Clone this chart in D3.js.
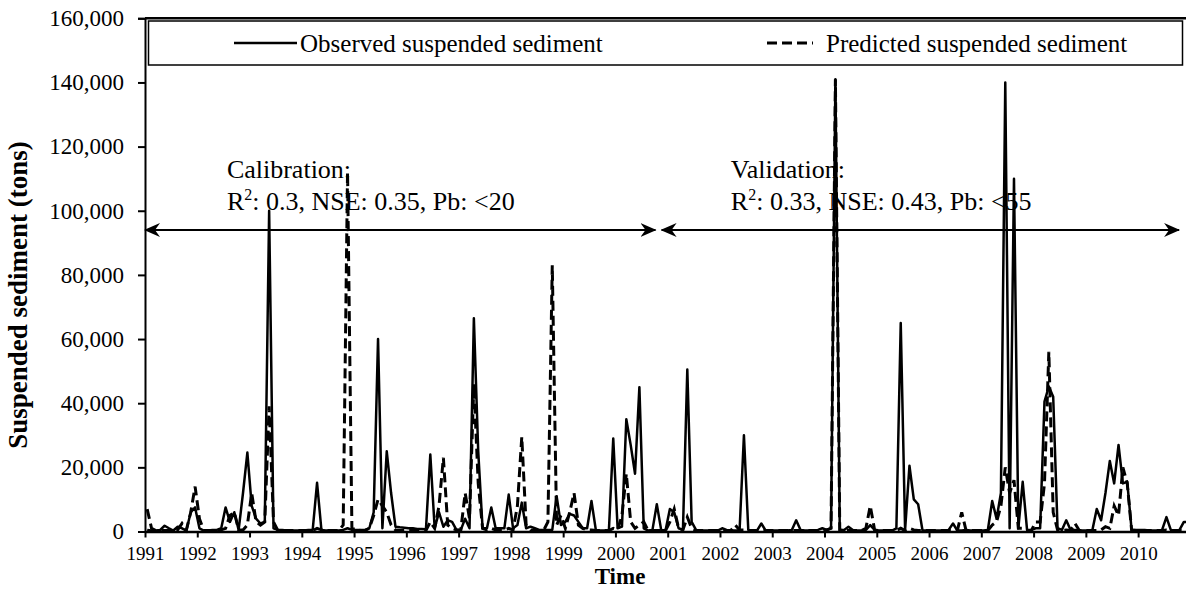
<!DOCTYPE html>
<html>
<head>
<meta charset="utf-8">
<script src="https://cdn.jsdelivr.net/npm/d3@7"></script>
<style>
  body { margin: 0; background: #fff; }
  svg { display: block; font-family: "Liberation Serif", "Times New Roman", serif; }
</style>
</head>
<body>
<svg id="chart" width="1186" height="590"></svg>
<script>
// tick labels on the time axis, one per 12 months
const years = [1991, 1992, 1993, 1994, 1995, 1996, 1997, 1998, 1999, 2000,
               2001, 2002, 2003, 2004, 2005, 2006, 2007, 2008, 2009, 2010];
const yTicks = [0, 20, 40, 60, 80, 100, 120, 140, 160]; // thousand tons

// monthly suspended sediment, thousand tons, Jan 1991 .. Dec 2010
const observed = [
  0.5, 0.3, 0.3, 0.5, 1.8, 1.0, 0.3, 1.5, 1.0, 0.3, 6, 7.5,
  1, 0.3, 0.3, 0.5, 0.5, 1, 7.5, 3, 6, 0.5, 12, 24.6,
  8, 4, 2.5, 3, 100, 1, 0.5, 0.5, 0.3, 0.3, 0.3, 0.3,
  0.3, 0.5, 0.5, 15.2, 0.5, 0.3, 0.3, 0.3, 0.3, 0.5, 1, 0.5,
  0.5, 0.5, 0.5, 1, 6, 60, 1, 25, 12, 1.5, 1.3, 1.2,
  1, 1, 0.8, 0.8, 0.7, 24, 1, 6, 1.5, 3.5, 3, 0.5,
  0.5, 4, 1, 66.5, 25, 1, 1, 7.5, 1, 1, 1, 11.5,
  1, 2, 9, 1, 1.5, 1, 0.5, 0.5, 0.5, 0.5, 11, 2,
  3, 5.5, 5, 3, 1, 1, 9.5, 0.5, 0.3, 0.3, 0.3, 29,
  1, 1.5, 35, 27, 18, 45, 1, 0.3, 0.5, 8.5, 0.5, 0.3,
  7, 6, 1, 0.5, 50.5, 3, 0.5, 0.3, 0.3, 0.3, 0.3, 0.3,
  1, 0.5, 0.3, 0.3, 0.3, 30, 0.5, 0.3, 0.3, 2.5, 0.3, 0.3,
  0.3, 0.3, 0.3, 0.3, 0.5, 3.5, 0.5, 0.3, 0.3, 0.3, 0.5, 1,
  0.5, 1, 141, 0.5, 0.5, 1.5, 0.5, 0.3, 0.3, 0.5, 2, 0.5,
  0.3, 0.3, 0.3, 0.3, 1, 65, 0.5, 20.5, 10, 8.5, 0.3, 0.3,
  0.3, 0.3, 0.3, 0.3, 0.5, 2.5, 0.3, 0.3, 0.5, 0.3, 0.3, 0.3,
  0.3, 0.5, 9.5, 4, 12, 140, 1, 110, 1, 15.5, 0.5, 0.5,
  1, 1, 40.5, 45.2, 42, 1, 0.5, 3.5, 0.5, 0.5, 0.3, 0.3,
  0.3, 0.5, 7, 3.5, 12, 22, 15, 27, 15, 15.5, 0.5, 0.5,
  0.5, 0.5, 0.3, 0.3, 0.3, 0.5, 4.5, 0.5, 0.3, 0.5, 3, 3
];
const predicted = [
  7, 1, 0.3, 0.3, 0.3, 0.3, 0.3, 0.5, 2.5, 0.5, 6, 14,
  4, 0.3, 0.3, 0.3, 0.3, 0.5, 1, 5, 6, 0.5, 0.5, 2,
  12, 3, 2, 3, 39, 3, 0.3, 0.3, 0.3, 0.3, 0.3, 0.3,
  0.3, 0.3, 0.3, 1, 0.5, 0.3, 0.3, 0.3, 0.3, 2, 112, 1,
  0.5, 0.3, 0.3, 1, 5, 10, 8, 6, 2, 0.5, 0.3, 0.3,
  0.3, 0.3, 0.3, 0.3, 0.3, 3, 1, 8, 23, 2, 1, 0.5,
  0.5, 12, 4, 46, 15, 1, 0.5, 1, 0.5, 0.5, 0.5, 1,
  0.5, 8, 29.5, 2, 0.5, 0.3, 0.3, 0.3, 3, 83, 2, 5,
  1, 6, 12, 2, 1, 0.5, 0.5, 0.3, 0.3, 0.3, 0.3, 1,
  0.5, 5, 18, 3, 1, 2, 3, 0.3, 0.3, 0.3, 0.3, 0.3,
  3, 7, 1, 0.5, 4.5, 1, 0.3, 0.3, 0.3, 0.3, 0.3, 0.3,
  0.3, 0.3, 0.3, 2, 0.5, 0.5, 0.3, 0.3, 0.3, 0.3, 0.3, 0.3,
  0.3, 0.3, 0.3, 0.3, 0.3, 0.3, 0.3, 0.3, 0.3, 0.3, 0.3, 0.5,
  0.5, 1, 141, 0.5, 0.3, 0.3, 0.3, 0.3, 0.3, 1, 8, 0.5,
  0.3, 0.3, 0.3, 0.3, 0.3, 1, 0.3, 1, 0.5, 0.3, 0.3, 0.3,
  0.3, 0.3, 0.3, 0.3, 0.3, 0.3, 0.3, 6, 0.3, 0.3, 0.3, 0.3,
  0.3, 0.3, 2, 3, 8, 20, 12, 16, 1, 1, 0.3, 0.3,
  3, 3, 15, 56, 6, 0.5, 0.3, 0.5, 0.3, 2.5, 0.3, 0.3,
  0.3, 0.3, 0.3, 0.5, 1.5, 1, 8, 5, 20, 15, 0.5, 0.3,
  0.3, 0.3, 0.3, 0.3, 0.3, 0.3, 0.5, 0.3, 0.3, 0.3, 0.3, 0.3
];

// period annotations (month index range, arrow height in thousand tons)
const periods = [
  { title: "Calibration:", stats: ": 0.3, NSE: 0.35, Pb: <20", from: 0, to: 117.2, at: 94, textAt: 18.8 },
  { title: "Validation:", stats: ": 0.33, NSE: 0.43, Pb: <55", from: 118.6, to: 237.4, at: 94, textAt: 134.5 }
];

const svg = d3.select("#chart");
const fontFamily = '"Liberation Serif", "Times New Roman", serif';

const monthW = 52.27 / 12;
const x = d3.scaleLinear().domain([0, 240]).range([145, 145 + 240 * monthW]);
const y = d3.scaleLinear().domain([0, 160]).range([531.5, 18.3]);

// arrow marker
svg.append("defs").append("marker")
    .attr("id", "arrow")
    .attr("viewBox", "0 0 16 14")
    .attr("refX", 15)
    .attr("refY", 7)
    .attr("markerWidth", 16)
    .attr("markerHeight", 14)
    .attr("markerUnits", "userSpaceOnUse")
    .attr("orient", "auto-start-reverse")
  .append("path")
    .attr("d", "M0,0 L16,7 L0,14 L5,7 Z")
    .attr("fill", "#000");

// top border of plot area
svg.append("line")
    .attr("x1", x(0)).attr("x2", 1186)
    .attr("y1", y(160)).attr("y2", y(160))
    .attr("stroke", "#000").attr("stroke-width", 2.5);

// y axis
const yAxis = svg.append("g")
    .attr("transform", `translate(${x(0)},0)`)
    .call(d3.axisLeft(y).tickValues(yTicks).tickSize(7).tickPadding(14)
        .tickFormat(d => d3.format(",")(d * 1000)));
yAxis.select(".domain").attr("stroke-width", 2);
yAxis.selectAll(".tick line").attr("stroke-width", 2);
yAxis.selectAll("text").attr("font-size", 23).attr("font-family", fontFamily).attr("fill", "#000");

// x axis
const xAxis = svg.append("g")
    .attr("transform", `translate(0,${y(0)})`)
    .call(d3.axisBottom(x).tickValues(years.map((_, i) => i * 12)).tickSize(6).tickPadding(9)
        .tickSizeOuter(0).tickFormat((d, i) => years[i]));
xAxis.select(".domain").attr("stroke-width", 2.5);
xAxis.selectAll(".tick line").attr("stroke-width", 2);
xAxis.selectAll("text").attr("font-size", 19).attr("font-family", fontFamily).attr("fill", "#000");

// series
const line = d3.line().x((d, i) => x(i + 0.5)).y(d => y(d));

svg.append("path")
    .datum(observed)
    .attr("fill", "none")
    .attr("stroke", "#000")
    .attr("stroke-width", 2.5)
    .attr("stroke-linejoin", "round")
    .attr("d", line);

svg.append("path")
    .datum(predicted)
    .attr("fill", "none")
    .attr("stroke", "#000")
    .attr("stroke-width", 3)
    .attr("stroke-dasharray", "10,5")
    .attr("d", line);

// annotations
periods.forEach(p => {
    svg.append("line")
        .attr("x1", x(p.from)).attr("x2", x(p.to))
        .attr("y1", y(p.at)).attr("y2", y(p.at))
        .attr("stroke", "#000").attr("stroke-width", 2)
        .attr("marker-start", "url(#arrow)")
        .attr("marker-end", "url(#arrow)");

    const tx = x(p.textAt);
    svg.append("text")
        .attr("x", tx).attr("y", 178)
        .attr("font-size", 26)
        .text(p.title);

    const t = svg.append("text")
        .attr("x", tx).attr("y", 210)
        .attr("font-size", 26);
    t.append("tspan").text("R");
    t.append("tspan").attr("font-size", 16).attr("dy", -10).text("2");
    t.append("tspan").attr("dy", 10).text(p.stats);
});

// legend
const legend = svg.append("g");
legend.append("rect")
    .attr("x", 148.5).attr("y", 21).attr("width", 1034).attr("height", 44)
    .attr("fill", "#fff").attr("stroke", "#000").attr("stroke-width", 1.5);
legend.append("line")
    .attr("x1", 234).attr("x2", 297).attr("y1", 43).attr("y2", 43)
    .attr("stroke", "#000").attr("stroke-width", 2.5);
legend.append("text")
    .attr("x", 300).attr("y", 52).attr("font-size", 25)
    .text("Observed suspended sediment");
legend.append("line")
    .attr("x1", 767).attr("x2", 813).attr("y1", 43).attr("y2", 43)
    .attr("stroke", "#000").attr("stroke-width", 3).attr("stroke-dasharray", "10,5");
legend.append("text")
    .attr("x", 826).attr("y", 52).attr("font-size", 25)
    .text("Predicted suspended sediment");

// axis titles
svg.append("text")
    .attr("transform", "rotate(-90)")
    .attr("x", -295).attr("y", 27)
    .attr("text-anchor", "middle")
    .attr("font-size", 27).attr("font-weight", "bold")
    .text("Suspended sediment (tons)");

svg.append("text")
    .attr("x", 620).attr("y", 584)
    .attr("text-anchor", "middle")
    .attr("font-size", 23).attr("font-weight", "bold")
    .text("Time");
</script>
</body>
</html>
